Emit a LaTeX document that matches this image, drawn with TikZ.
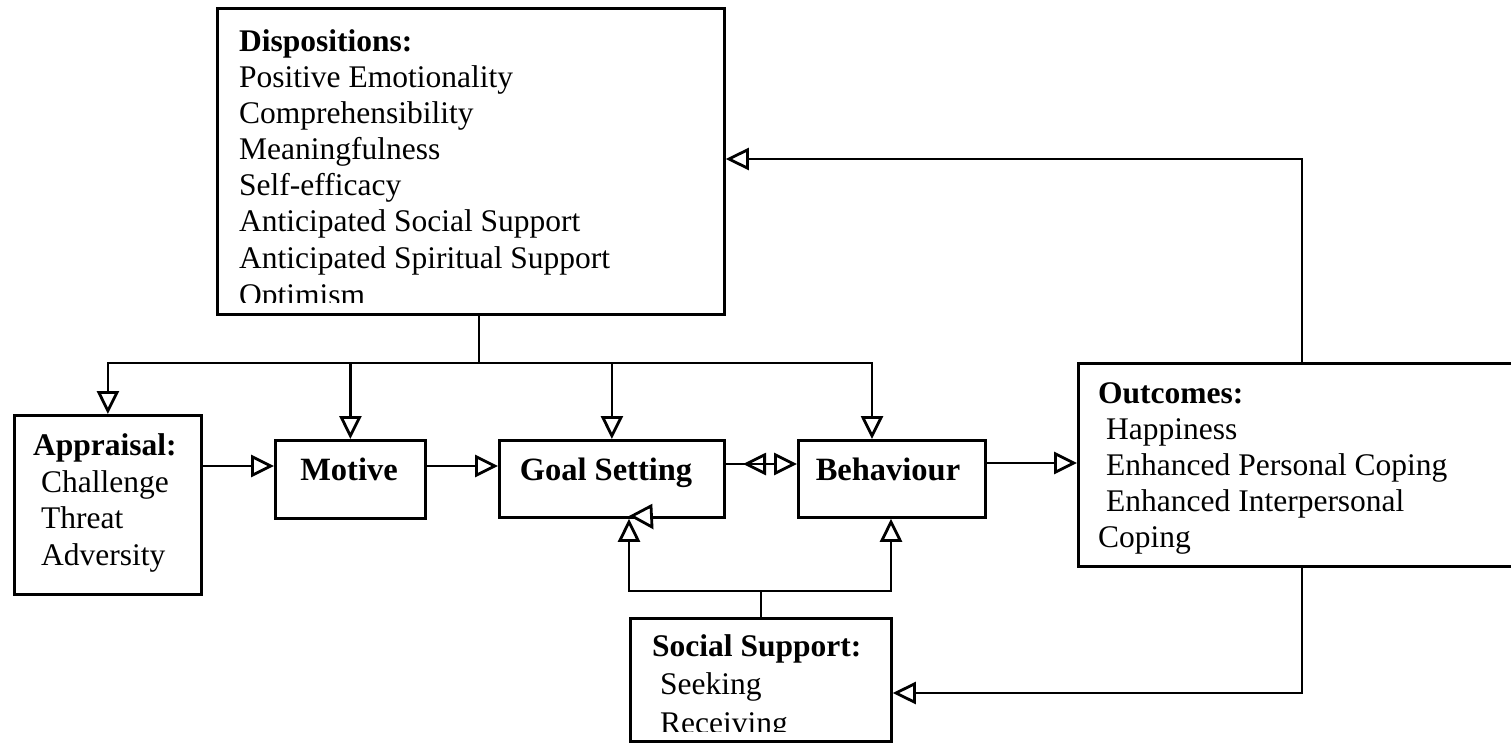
\documentclass[tikz,border=0pt]{standalone}
\usepackage{fontspec}
\setmainfont{Liberation Serif}
\usetikzlibrary{arrows.meta,calc}
\tikzset{
  box/.style={draw, line width=2.8pt, rectangle, inner sep=0pt, anchor=north west},
  conn/.style={line width=2.8pt},
  arr/.style={line width=2.8pt, -{Triangle[open, length=23pt, width=22pt, line width=2.8pt]}},
  txt/.style={anchor=base west, inner sep=0pt, font=\fontsize{31.5}{36}\selectfont},
  ctxt/.style={anchor=base, inner sep=0pt, font=\fontsize{32.5}{36}\selectfont\bfseries},
}
\begin{document}
\begin{tikzpicture}[x=1pt, y=-1pt]
\useasboundingbox (0,0) rectangle (1511,743);
\clip (0,0) rectangle (1511,743);
% boxes
\node[box, minimum width=507pt, minimum height=306pt] (disp) at (216,7) {};
\node[box, minimum width=187pt, minimum height=179pt] (appr) at (13,414) {};
\node[box, minimum width=150pt, minimum height=78pt] (motive) at (274,439) {};
\node[box, minimum width=225pt, minimum height=77pt] (goal) at (498,439) {};
\node[box, minimum width=187pt, minimum height=77pt] (behav) at (797,439) {};
\node[box, minimum width=445pt, minimum height=203pt] (outc) at (1077,362) {};
\node[box, minimum width=261pt, minimum height=123pt] (ss) at (629,617) {};
% texts: dispositions
\node[txt] (d0) at (239,52) {\textbf{Dispositions:}};
\node[txt] (d1) at (239,87.5) {Positive Emotionality};
\node[txt] (d2) at (239,123.5) {Comprehensibility};
\node[txt] (d3) at (239,159.5) {Meaningfulness};
\node[txt] (d4) at (239,195.5) {Self-efficacy};
\node[txt] (d5) at (239,231.5) {Anticipated Social Support};
\node[txt] (d6) at (239,268) {Anticipated Spiritual Support};
\begin{scope}
\clip (216,7) rectangle (723,302);
\node[txt] (d7) at (239,305) {Optimism};
\end{scope}
% appraisal
\node[txt] (a0) at (33,455) {\textbf{Appraisal:}};
\node[txt] (a1) at (41,492) {Challenge};
\node[txt] (a2) at (41,528) {Threat};
\node[txt] (a3) at (41,565) {Adversity};
% single boxes
\node[ctxt] (mt) at (349,480) {Motive};
\node[ctxt] (gt) at (606,480) {Goal Setting};
\node[ctxt] (bt) at (888,480) {Behaviour};
% outcomes
\node[txt] (o0) at (1098,403) {\textbf{Outcomes:}};
\node[txt] (o1) at (1106,439) {Happiness};
\node[txt] (o2) at (1106,475) {Enhanced Personal Coping};
\node[txt] (o3) at (1106,511) {Enhanced Interpersonal};
\node[txt] (o4) at (1098,547) {Coping};
% social support
\node[txt] (s0) at (652,656) {\textbf{Social Support:}};
\node[txt] (s1) at (660,694) {Seeking};
\begin{scope}
\clip (629,617) rectangle (890,731);
\node[txt] (s2) at (660,733) {Receiving};
\end{scope}
% coordinates
\coordinate (stem) at (479,363);
\coordinate (bx) at (872,363);
\coordinate (fbx) at (1302,159);
\coordinate (fbb) at (1302,693);
\coordinate (ssj) at (761,591);
\coordinate (gx) at (629,591);
\coordinate (bbx) at (891,591);
\coordinate (dl) at (743,464);
\coordinate (dlb) at (766,464);
% dispositions bus
\draw[conn] (stem |- disp.south) -- (stem);
\draw[arr] (stem) -| (appr.north);
\draw[arr] (motive.north |- stem) -- (motive.north);
\draw[arr] (goal.north |- stem) -- (goal.north);
\draw[arr] (stem) -- (bx) -- (bx |- behav.north);
% main chain
\draw[arr] (appr.east |- 0,466) -- (motive.west |- 0,466);
\draw[arr] (motive.east |- 0,466) -- (goal.west |- 0,466);
\draw[arr] (goal.east |- dl) -- (behav.west |- dl);
\draw[arr] (dlb) -- (dl);
\draw[arr] (behav.east |- 0,463) -- (outc.west |- 0,463);
% feedback loops
\draw[arr] (fbx |- outc.north) -- (fbx) -- (disp.east |- fbx);
\draw[arr] (fbb |- outc.south) -- (fbb) -- (ss.east |- fbb);
% social support to goal / behaviour
\draw[conn] (ssj |- ss.north) -- (ssj);
\draw[arr] (ssj) -- (gx) -- (gx |- goal.south);
\draw[arr] (ssj) -- (bbx) -- (bbx |- behav.south);
% stray arrowhead at goal setting
\draw[line width=2.8pt, fill=white, line join=miter] (632,516) -- (651,506) -- (652,527) -- cycle;
\end{tikzpicture}
\end{document}
